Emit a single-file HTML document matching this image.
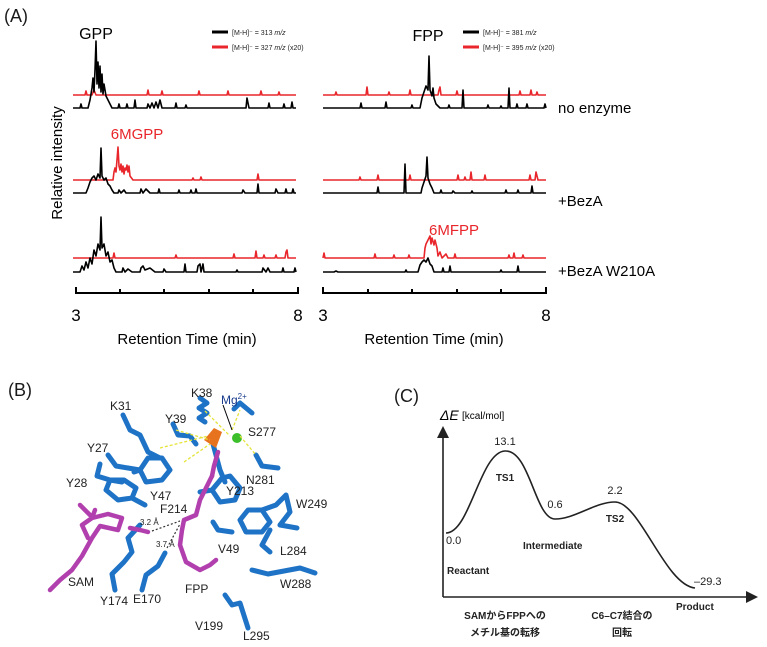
<!DOCTYPE html>
<html><head><meta charset="utf-8"><style>
body{margin:0;background:#fff}
svg{display:block}
text{font-family:"Liberation Sans","Noto Sans CJK JP",sans-serif}
</style></head><body>
<svg width="767" height="647" viewBox="0 0 767 647" xmlns="http://www.w3.org/2000/svg">
<rect width="767" height="647" fill="#fff"/>
<text x="4" y="22" font-size="18" fill="#1a1a1a">(A)</text>
<text x="0" y="0" font-size="15" transform="translate(62,163) rotate(-90)" text-anchor="middle">Relative intensity</text>
<text x="96" y="39" font-size="16" text-anchor="middle">GPP</text>
<text x="428" y="41" font-size="16" text-anchor="middle">FPP</text>
<text x="137" y="139" font-size="15" text-anchor="middle" fill="#e8262b">6MGPP</text>
<text x="454" y="235" font-size="15" text-anchor="middle" fill="#e8262b">6MFPP</text>
<g stroke-width="3"><line x1="212" y1="32" x2="228" y2="32" stroke="#000"/><line x1="212" y1="47" x2="228" y2="47" stroke="#e8262b"/>
<line x1="463" y1="32" x2="479" y2="32" stroke="#000"/><line x1="463" y1="47" x2="479" y2="47" stroke="#e8262b"/></g>
<g font-size="7" fill="#222"><text x="232" y="35">[M-H]⁻ = 313 <tspan font-style="italic">m/z</tspan></text>
<text x="232" y="50">[M-H]⁻ = 327 <tspan font-style="italic">m/z</tspan> (x20)</text>
<text x="483" y="35">[M-H]⁻ = 381 <tspan font-style="italic">m/z</tspan></text>
<text x="483" y="50">[M-H]⁻ = 395 <tspan font-style="italic">m/z</tspan> (x20)</text></g>
<g font-size="15"><text x="558" y="113">no enzyme</text><text x="558" y="206">+BezA</text><text x="558" y="276">+BezA W210A</text></g>
<g fill="none" stroke-width="1.6" stroke-linejoin="round">
<path stroke="#e8262b" d="M73,95 L85,95 L86,91 L87,95 L92,95 L94,90 L96,95 L147,95 L148,90 L149,95 L161,95 L162,91 L163,95 L198,95 L199,91 L200,95 L227,95 L228,91 L229,95 L260,95 L261,91 L262,95 L278,95 L279,92 L280,95 L296,95"/>
<path stroke="#000" d="M73,108 L80,108 L81,104 L82,108 L88,108 L90,100 L92,88 L93,78 L94,92 L95,70 L96,41 L97,84 L98,62 L99,88 L100,66 L101,92 L102,74 L103,94 L104,84 L106,96 L108,100 L110,104 L112,108 L118,108 L119,104 L120,108 L126,108 L127,104 L128,108 L134,108 L135,100 L136,108 L147,108 L148,104 L150,108 L152,103 L154,108 L156,102 L158,108 L160,100 L162,108 L175,108 L176,103 L177,108 L185,108 L186,105 L187,108 L246,108 L247,98 L249,108 L268,108 L269,103 L270,108 L283,108 L284,104 L285,108 L291,108 L292,102 L293,108 L296,108"/>
<path stroke="#e8262b" d="M73,180 L113,180 L114,172 L115,168 L116,172 L117,160 L118,147 L119,166 L120,170 L121,164 L122,172 L123,166 L124,174 L125,168 L126,170 L127,165 L128,172 L129,166 L130,176 L133,180 L192,180 L193,178 L194,180 L200,180 L201,177 L202,180 L257,180 L258,174 L259,180 L296,180"/>
<path stroke="#000" d="M73,193 L86,193 L88,188 L90,182 L92,178 L94,176 L96,180 L98,174 L100,178 L101,148 L102,176 L104,180 L106,178 L108,184 L110,186 L112,190 L114,193 L118,193 L119,190 L121,193 L124,190 L126,193 L140,193 L141,189 L143,193 L146,189 L150,193 L158,193 L159,189 L160,193 L178,193 L179,190 L180,193 L190,193 L191,190 L192,193 L195,193 L196,189 L197,193 L242,193 L243,190 L245,193 L257,193 L258,184 L259,193 L275,193 L276,189 L278,193 L285,193 L286,189 L287,193 L292,193 L293,189 L294,193 L296,193"/>
<path stroke="#e8262b" d="M73,258 L113,258 L114,253 L115,258 L175,258 L176,255 L177,258 L233,258 L234,254 L235,258 L255,258 L256,251 L257,258 L263,258 L264,255 L265,258 L275,258 L276,255 L277,258 L285,258 L286,252 L287,250 L288,258 L296,258"/>
<path stroke="#000" d="M73,272 L80,272 L82,266 L84,270 L86,262 L88,268 L90,258 L92,264 L94,250 L96,256 L98,244 L100,250 L101,217 L102,248 L104,244 L106,256 L108,252 L110,262 L112,260 L114,268 L116,272 L122,272 L123,268 L125,272 L128,269 L132,272 L140,272 L141,268 L143,266 L145,270 L150,268 L155,272 L163,272 L164,269 L166,272 L184,272 L185,264 L186,272 L197,272 L198,266 L200,264 L201,272 L203,264 L204,272 L236,272 L237,270 L238,272 L262,272 L263,268 L266,272 L268,268 L270,272 L282,272 L283,268 L284,272 L294,272 L295,268 L296,272"/>
<path stroke="#e8262b" d="M323,95 L335,95 L336,92 L337,95 L366,95 L367,87 L368,95 L388,95 L389,92 L390,95 L409,95 L410,90 L411,95 L438,95 L439,90 L440,87 L441,95 L456,95 L457,91 L458,95 L519,95 L520,91 L521,95 L530,95 L531,90 L532,95 L536,95 L537,92 L538,95 L546,95"/>
<path stroke="#000" d="M323,108 L360,108 L361,103 L362,108 L385,108 L386,102 L387,108 L411,108 L412,105 L413,108 L420,108 L422,98 L424,92 L426,86 L428,90 L429,56 L430,90 L432,96 L433,88 L434,98 L436,104 L440,108 L448,108 L449,105 L450,108 L462,108 L463,90 L464,108 L487,108 L488,105 L489,108 L500,108 L501,106 L502,108 L508,108 L509,88 L510,108 L516,108 L517,104 L518,108 L526,108 L527,104 L528,108 L544,108 L545,104 L546,108"/>
<path stroke="#e8262b" d="M323,180 L359,180 L360,177 L361,180 L377,180 L378,175 L379,180 L409,180 L410,175 L411,180 L457,180 L458,175 L459,180 L464,180 L465,177 L466,180 L470,180 L471,172 L472,180 L484,180 L485,175 L486,180 L529,180 L530,175 L531,180 L535,180 L536,172 L538,180 L546,180"/>
<path stroke="#000" d="M323,193 L377,193 L378,187 L379,193 L404,193 L405,164 L406,193 L421,193 L422,188 L424,182 L426,176 L427,157 L428,178 L430,184 L432,188 L434,193 L440,193 L441,190 L442,193 L452,193 L453,191 L455,193 L471,193 L472,191 L473,193 L505,193 L506,190 L507,193 L517,193 L518,190 L519,193 L531,193 L532,186 L533,193 L546,193"/>
<path stroke="#e8262b" d="M323,258 L324,253 L325,258 L374,258 L375,254 L376,258 L393,258 L394,255 L395,258 L408,258 L409,255 L410,258 L424,258 L425,248 L426,244 L428,240 L430,236 L431,244 L432,238 L434,245 L435,240 L437,248 L438,256 L440,252 L442,258 L446,254 L448,258 L454,258 L455,254 L456,258 L508,258 L509,255 L510,258 L513,258 L514,253 L515,258 L522,258 L523,255 L524,258 L546,258"/>
<path stroke="#000" d="M323,272 L334,272 L336,271 L338,272 L405,272 L406,270 L407,272 L418,272 L420,265 L422,262 L424,260 L426,262 L428,258 L430,264 L432,266 L434,272 L442,272 L443,268 L444,272 L449,272 L450,266 L451,272 L500,272 L501,270 L502,272 L517,272 L518,266 L519,272 L546,272"/>
</g>
<g stroke="#000" stroke-width="2" fill="none">
<path d="M76,287 L76,293 L298,293 L298,287"/>
<path d="M120,293 V289 M164,293 V289 M209,293 V289 M253,293 V289"/>
<path d="M323,287 L323,293 L546,293 L546,287"/>
<path d="M368,293 V289 M412,293 V289 M457,293 V289 M501,293 V289"/>
</g>
<g font-size="17"><text x="76" y="321" text-anchor="middle">3</text><text x="298" y="321" text-anchor="middle">8</text>
<text x="323" y="321" text-anchor="middle">3</text><text x="546" y="321" text-anchor="middle">8</text></g>
<g font-size="15" text-anchor="middle"><text x="187" y="344">Retention Time (min)</text><text x="434" y="344">Retention Time (min)</text></g>

<text x="8" y="396" font-size="18" fill="#1a1a1a">(B)</text>
<g fill="none" stroke="#1e73c6" stroke-width="5" stroke-linecap="round" stroke-linejoin="round">
<path d="M123,415 L130,430 L140,435 L148,452 L160,458"/>
<path d="M148,458 L140,470 L146,482 L162,480 L170,470 L162,458 Z M140,470 L134,472"/>
<path d="M108,455 L116,466 L128,468 L140,470"/>
<path d="M100,464 L97,476 L110,480 L122,482"/>
<path d="M110,480 L106,490 L118,500 L132,498 L136,488 L124,480 Z M132,498 L145,505"/>
<path d="M173,424 L178,435 L190,436 L196,444"/>
<path d="M200,398 L207,403 L199,408 L207,413 L199,418 L205,422"/>
<path d="M234,409 L240,403 L252,413"/>
<path d="M256,455 L262,466 L278,468"/>
<path d="M213,444 L220,470 L225,482"/>
<path d="M222,478 L212,490 L220,502 L235,500 L240,488 L230,476 Z M212,490 L200,492"/>
<path d="M213,522 L218,530 L232,532"/>
<path d="M248,510 L240,520 L246,532 L262,532 L270,522 L262,510 Z M262,510 L276,505 L286,495 L290,512 L280,525"/>
<path d="M270,530 L262,545 L270,552 M280,525 L297,528"/>
<path d="M252,570 L268,574 L300,568 L315,573"/>
<path d="M225,595 L232,605 L240,603 L248,628"/>
<path d="M140,525 L128,538 L132,552 L124,562 L112,574 L115,590"/>
<path d="M165,553 L158,566 L146,575 L142,590"/>
</g>
<g fill="none" stroke="#b23fae" stroke-width="4.5" stroke-linecap="round" stroke-linejoin="round">
<path d="M50,590 L60,580 L72,570 L82,556 L92,538 L100,526 L118,530 L122,518 L108,514 L92,518 L82,525 L88,538"/>
<path d="M92,518 L95,510 M90,515 L80,505"/>
<path d="M212,476 L206,488 L200,500 L196,515 L184,520 L182,530 L180,545 L186,562 L200,570 L210,565 L216,560"/>
<path d="M212,476 L214,466 L218,452"/>
<path d="M130,528 L140,530 L148,532"/>
</g>
<path d="M204,440 L214,428 L222,432 L216,448 Z" fill="#e8731f"/>
<circle cx="237" cy="438" r="5" fill="#3cbf2a"/>
<g stroke="#e4e43a" stroke-width="1.3" stroke-dasharray="3,2" fill="none">
<path d="M160,448 L208,436 M176,430 L210,440 M205,411 L230,436 M240,436 L256,455 M184,462 L210,444 M232,430 L240,410"/>
</g>
<g stroke="#333" stroke-width="1.2" stroke-dasharray="2,2" fill="none"><path d="M152,531 L180,521 M167,548 L180,524"/></g>
<path d="M223,405 L232,430" stroke="#000" stroke-width="1"/>
<g font-size="12" fill="#222">
<text x="110" y="410">K31</text><text x="191" y="397">K38</text><text x="221" y="404" fill="#1a3c8c">Mg<tspan font-size="8" dy="-5">2+</tspan></text>
<text x="165" y="423">Y39</text><text x="248" y="436">S277</text><text x="87" y="452">Y27</text>
<text x="246" y="484">N281</text><text x="66" y="487">Y28</text><text x="150" y="500">Y47</text>
<text x="226" y="495">Y213</text><text x="160" y="513">F214</text><text x="296" y="508">W249</text>
<text x="218" y="553">V49</text><text x="280" y="555">L284</text><text x="68" y="586">SAM</text>
<text x="280" y="588">W288</text><text x="185" y="593">FPP</text><text x="100" y="605">Y174</text>
<text x="133" y="603">E170</text><text x="195" y="630">V199</text><text x="243" y="640">L295</text>
</g>
<g font-size="8" fill="#222"><text x="140" y="525">3.2 Å</text><text x="156" y="547">3.7 Å</text></g>

<text x="394" y="402" font-size="18" fill="#1a1a1a">(C)</text>
<text x="440" y="420" font-size="14" font-style="italic">ΔE</text>
<text x="462" y="419" font-size="10">[kcal/mol]</text>
<g stroke="#222" stroke-width="1.6" fill="none">
<path d="M443,597 L443,434"/><path d="M443,597 L750,597"/>
<path d="M446,533 C470,533 480,452 505,451 C530,450 535,519 555,519 C575,519 595,502 615,502 C640,502 665,585 695,588"/>
</g>
<path d="M437,438 L443,426 L449,438 Z" fill="#222"/>
<path d="M746,591 L758,597 L746,603 Z" fill="#222"/>
<g font-size="11" fill="#222">
<text x="505" y="445" text-anchor="middle">13.1</text><text x="555" y="508" text-anchor="middle">0.6</text>
<text x="615" y="494" text-anchor="middle">2.2</text><text x="446" y="544">0.0</text><text x="694" y="585">–29.3</text>
</g>
<g font-size="10" font-weight="bold" fill="#222">
<text x="505" y="481" text-anchor="middle">TS1</text><text x="615" y="522" text-anchor="middle">TS2</text>
<text x="523" y="549">Intermediate</text><text x="447" y="574">Reactant</text><text x="676" y="610">Product</text>
<text x="505" y="619" text-anchor="middle">SAMからFPPへの</text><text x="505" y="636" text-anchor="middle">メチル基の転移</text>
<text x="622" y="619" text-anchor="middle">C6–C7結合の</text><text x="622" y="636" text-anchor="middle">回転</text>
</g>
</svg>
</body></html>
